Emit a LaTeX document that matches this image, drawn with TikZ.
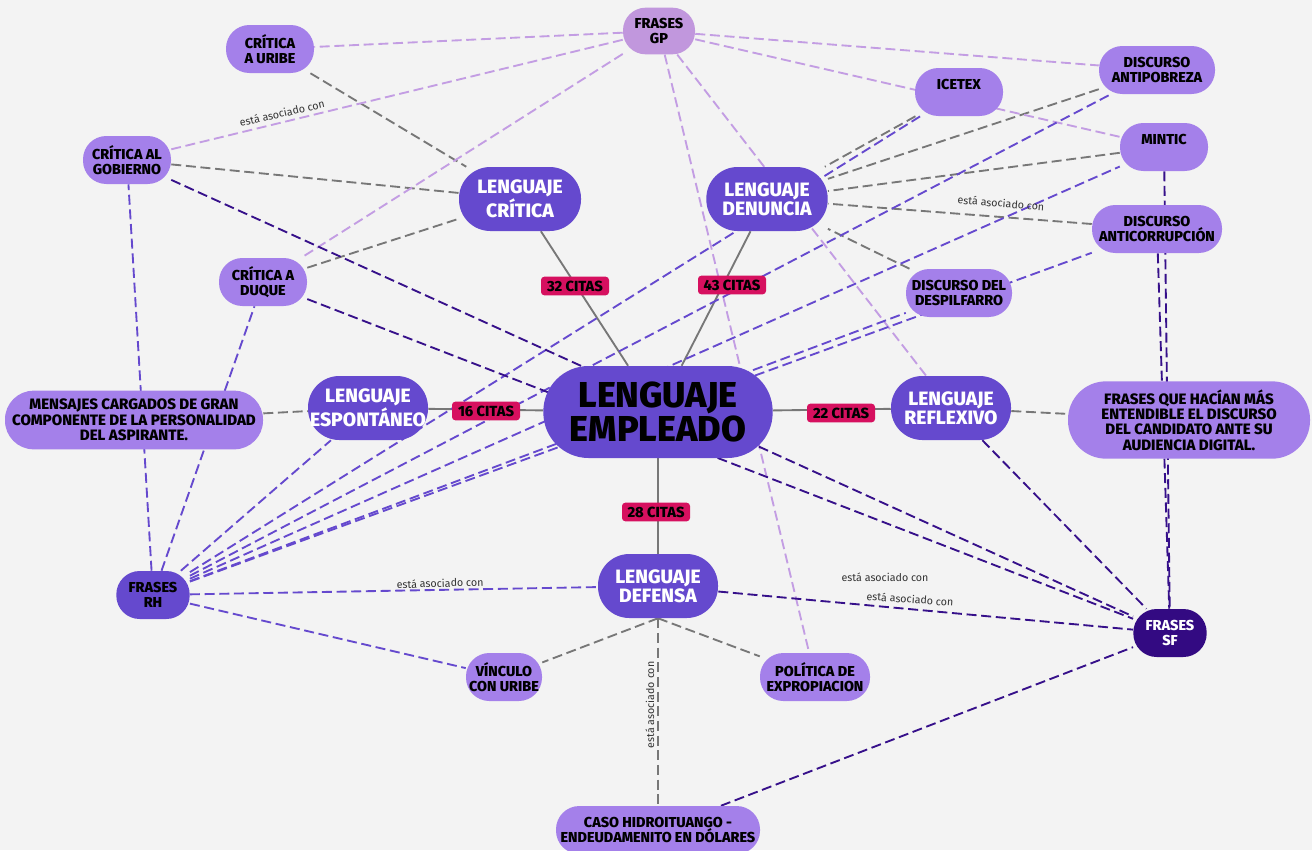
\documentclass[tikz,border=0pt]{standalone}
\usepackage{fontspec}
\setmainfont{Fira Sans}[BoldFont={Fira Sans ExtraBold}]
\definecolor{bgc}{HTML}{F3F3F3}
\definecolor{lpc}{HTML}{A480EA}
\definecolor{gpc}{HTML}{C197DD}
\definecolor{dkc}{HTML}{6549CE}
\definecolor{sfc}{HTML}{330A82}
\definecolor{citec}{HTML}{D6105F}
\definecolor{grayl}{HTML}{777777}
\definecolor{lightl}{HTML}{C39DE3}
\definecolor{medl}{HTML}{6549CE}
\definecolor{navyl}{HTML}{36108A}
\definecolor{labc}{HTML}{333333}
\pgfdeclarelayer{bgl}
\pgfdeclarelayer{edgel}
\pgfsetlayers{bgl,edgel,main}
\begin{document}
\begin{tikzpicture}[x=0.75pt,y=-0.75pt,
  box/.style={align=center, inner sep=0pt, font=\bfseries\fontsize{10.8}{11}\selectfont},
  lp/.style={box, fill=lpc, text=black, minimum height=36pt, rounded corners=17.5pt},
  bigtext/.style={font=\bfseries\fontsize{11.3}{11.5}\selectfont},
  gpbox/.style={box, fill=gpc, text=black, minimum height=35pt, rounded corners=17pt},
  dk/.style={box, fill=dkc, text=white, minimum height=48pt, rounded corners=23.5pt, font=\bfseries\fontsize{14.5}{14.5}\selectfont},
  rhbox/.style={box, fill=dkc, text=black, minimum height=36pt, rounded corners=17.5pt},
  sfbox/.style={box, fill=sfc, text=white, minimum height=36pt, rounded corners=17.5pt},
  cite/.style={fill=citec, rounded corners=2.5pt, minimum width=51pt, minimum height=14pt, inner sep=0pt, font=\bfseries\fontsize{11}{11}\selectfont},
  solidg/.style={draw=grayl, line width=1.4pt},
  dashg/.style={draw=grayl, line width=1.4pt, dash pattern=on 7.5pt off 3.5pt},
  dashl/.style={draw=lightl, line width=1.4pt, dash pattern=on 7.5pt off 3.5pt},
  dashm/.style={draw=medl, line width=1.4pt, dash pattern=on 7.5pt off 3.5pt},
  dashn/.style={draw=navyl, line width=1.4pt, dash pattern=on 7.5pt off 3.5pt},
  elab/.style={font=\fontsize{8}{8.5}\selectfont, text=labc, inner sep=0pt}
]
\useasboundingbox (0,0) rectangle (1312,850);
\begin{pgfonlayer}{bgl}
\fill[bgc] (0,0) rectangle (1312,850);
\end{pgfonlayer}

% nodes
\node[gpbox, minimum width=54pt] (gp) at (659,31) {FRASES\\GP};
\node[lp, minimum width=66pt] (cu) at (270,49) {CRÍTICA\\A URIBE};
\node[lp, minimum width=66pt] (cg) at (127,160) {CRÍTICA AL\\GOBIERNO};
\node[lp, minimum width=66pt] (cd) at (263,282) {CRÍTICA A\\DUQUE};
\node[dk, minimum width=91.5pt] (lc) at (520,199) {LENGUAJE\\CRÍTICA};
\node[dk, minimum width=91pt] (ld) at (767,199) {LENGUAJE\\DENUNCIA};
\node[lp, minimum width=66pt] (ic) at (959,92) {ICETEX\\\mbox{}};
\node[lp, minimum width=87pt] (ap) at (1157,70) {DISCURSO\\ANTIPOBREZA};
\node[lp, minimum width=66pt] (mi) at (1164,147) {MINTIC\\\mbox{}};
\node[lp, minimum width=97.5pt] (ac) at (1157,229) {DISCURSO\\ANTICORRUPCIÓN};
\node[lp, minimum width=79.5pt] (dp) at (959,293) {DISCURSO DEL\\DESPILFARRO};
\node[lp, bigtext, minimum width=193.5pt, minimum height=44pt, rounded corners=21.5pt] (mc) at (134,420) {MENSAJES CARGADOS DE GRAN\\COMPONENTE DE LA PERSONALIDAD\\DEL ASPIRANTE.};
\node[dk, minimum width=90pt] (le) at (368,408) {LENGUAJE\\ESPONTÁNEO};
\node[dk, minimum width=172pt, minimum height=69pt, rounded corners=34pt, text=black, font=\bfseries\fontsize{27}{25}\selectfont] (em) at (658,412) {LENGUAJE\\EMPLEADO};
\node[dk, minimum width=90pt] (lr) at (951,408) {LENGUAJE\\REFLEXIVO};
\node[lp, bigtext, minimum width=181.5pt, minimum height=58pt, rounded corners=28.5pt] (fq) at (1189,420) {FRASES QUE HACÍAN MÁS\\ENTENDIBLE EL DISCURSO\\DEL CANDIDATO ANTE SU\\AUDIENCIA DIGITAL.};
\node[rhbox, minimum width=55pt] (rh) at (153,595) {FRASES\\RH};
\node[dk, minimum width=90pt] (df) at (658,586) {LENGUAJE\\DEFENSA};
\node[lp, minimum width=57pt] (vu) at (504,677) {VÍNCULO\\CON URIBE};
\node[lp, minimum width=82.5pt] (pe) at (815,677) {POLÍTICA DE\\EXPROPIACION};
\node[lp, minimum width=153pt] (ch) at (658,830) {CASO HIDROITUANGO -\\ENDEUDAMENITO EN DÓLARES};
\node[sfbox, minimum width=55pt] (sf) at (1170,633) {FRASES\\SF};

% citation labels
\node[cite] (c32) at (575,286) {32 CITAS};
\node[cite] (c43) at (732,285) {43 CITAS};
\node[cite] (c16) at (486,411) {16 CITAS};
\node[cite] (c22) at (841,413) {22 CITAS};
\node[cite] (c28) at (656,512) {28 CITAS};

% edge labels
\node[elab, rotate=13] (l1) at (282,113) {está asociado con};
\node[elab, rotate=-4.5] (l2) at (1001,203) {está asociado con};
\node[elab, rotate=1.8] (l3) at (440,583) {está asociado con};
\node[elab, rotate=90] (l4) at (650,705) {está asociado con};
\node[elab] (l5) at (885,577) {está asociado con};
\node[elab, rotate=-4] (l6) at (910,599) {está asociado con};

\begin{pgfonlayer}{edgel}
% solid gray
\draw[solidg] (em) -- (lc);
\draw[solidg] (em) -- (ld);
\draw[solidg] (em) -- (le);
\draw[solidg] (em) -- (lr);
\draw[solidg] (em) -- (df);
% gray dashed
\draw[dashg] (cu) -- (lc);
\draw[dashg] (cg) -- (lc);
\draw[dashg] (cd) -- (lc);
\draw[dashg] (ic) -- (ld);
\draw[dashg] (ap) -- (ld);
\draw[dashg] (mi) -- (ld);
\draw[dashg] (ac) -- (ld);
\draw[dashg] (dp) -- (ld);
\draw[dashg] (mc) -- (le);
\draw[dashg] (lr) -- (fq);
\draw[dashg] (df.south) -- (vu);
\draw[dashg] (df.south) -- (pe);
\draw[dashg] (df.south) -- (ch);
% light purple dashed
\draw[dashl] (gp) -- (cu);
\draw[dashl] (gp) -- (cg);
\draw[dashl] (gp) -- (cd);
\draw[dashl] (gp) -- (ap);
\draw[dashl] (gp) -- (mi);
\draw[dashl] (gp) -- (lr);
\draw[dashl] (gp) -- (pe);
% medium purple dashed
\draw[dashm] (rh) -- (cg);
\draw[dashm] (rh) -- (cd);
\draw[dashm] (rh) -- (le);
\draw[dashm] (rh) -- (ic);
\draw[dashm] (rh) -- (ap);
\draw[dashm] (rh) -- (mi);
\draw[dashm] (rh) -- (ac);
\draw[dashm] (rh) -- (dp);
\draw[dashm] (rh) -- (df);
\draw[dashm] (rh) -- (vu);
% navy dashed
\draw[dashn] (cg) -- (sf);
\draw[dashn] (cd) -- (sf);
\draw[dashn] (lr) -- (sf);
\draw[dashn] (df) -- (sf);
\draw[dashn] (ch) -- (sf);
\draw[dashn] (mi) -- (sf);
\draw[dashn] (ac) -- (sf);
\end{pgfonlayer}
\end{tikzpicture}
\end{document}
